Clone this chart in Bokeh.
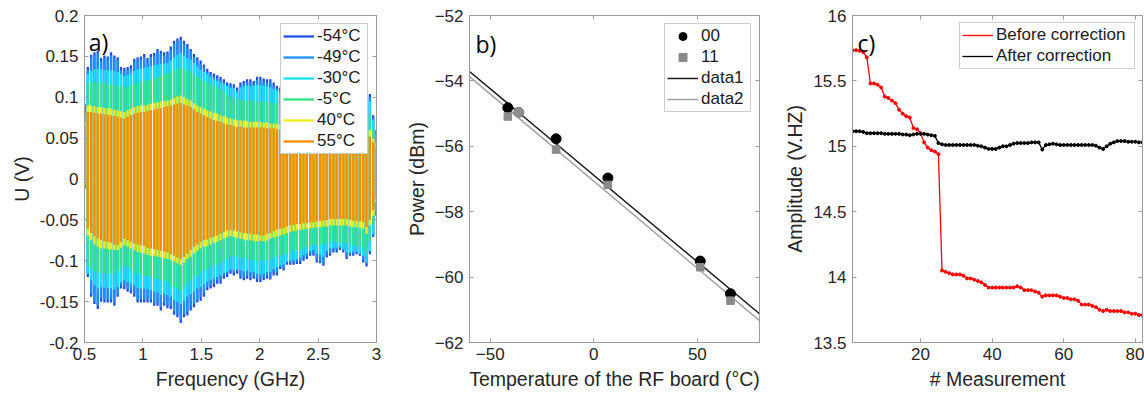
import numpy as np
from bokeh.plotting import figure
from bokeh.models import (ColumnDataSource, Legend, LegendItem, LinearAxis,
                          FixedTicker, CustomJSTickFormatter, CustomLabelingPolicy, Label)
from bokeh.layouts import row
from bokeh.embed import file_html
from bokeh.resources import INLINE

FONT = "Liberation Sans"
TXT = "#262626"
AXC = "#9c9c9c"

# ---------------- a) U(f) for six board temperatures (envelopes, mV) ----------------
temps_a = ["-54°C", "-49°C", "-30°C", "-5°C", "40°C", "55°C"]
colors_a = ["#1f50e6", "#1a8ff5", "#14e4fa", "#30e488", "#f2ee1e", "#ff8a00"]
freq_ghz = np.linspace(0.5, 3.0, 89)  # oscillation peaks along the sweep

up_m54 = [92, 137, 152, 155, 157, 148, 151, 150, 155, 151, 149, 137, 136, 137, 139, 147, 149, 150, 153, 148,
          153, 154, 159, 157, 155, 156, 162, 169, 172, 174, 169, 165, 159, 153, 149, 145, 140, 135, 131, 129,
          127, 125, 122, 118, 117, 116, 112, 118, 120, 122, 122, 120, 125, 125, 123, 122, 122, 118, 114, 112,
          112, 106, 105, 106, 104, 103, 100, 98, 95, 94, 101, 103, 105, 97, 94, 91, 90, 88, 91, 97,
          95, 94, 93, 95, 101, 106, 104, 78, 60]
up_m49 = [88, 133, 148, 151, 153, 144, 147, 146, 151, 147, 145, 133, 132, 133, 135, 143, 145, 146, 149, 144,
          149, 150, 155, 153, 151, 152, 158, 165, 168, 170, 165, 161, 155, 149, 145, 141, 136, 131, 127, 125,
          123, 121, 118, 114, 113, 112, 108, 114, 116, 118, 118, 116, 121, 121, 119, 118, 118, 114, 110, 108,
          108, 102, 101, 102, 100, 99, 96, 94, 91, 90, 97, 99, 101, 93, 90, 87, 86, 84, 87, 93,
          91, 90, 89, 91, 97, 102, 100, 75, 58]
up_m30 = [82, 128, 132, 134, 135, 134, 134, 133, 133, 132, 131, 128, 126, 127, 129, 132, 134, 135, 136, 137,
          138, 139, 140, 141, 141, 142, 145, 149, 152, 154, 151, 148, 146, 142, 138, 134, 131, 128, 125, 122,
          120, 118, 116, 114, 112, 111, 106, 112, 113, 114, 114, 114, 115, 115, 114, 113, 112, 110, 108, 106,
          105, 101, 100, 99, 98, 96, 93, 91, 88, 87, 91, 93, 95, 88, 85, 84, 84, 83, 86, 90,
          90, 89, 89, 91, 94, 100, 95, 72, 55]
up_m5 = [76, 118, 118, 118, 118, 118, 117, 116, 116, 115, 114, 113, 112, 113, 115, 116, 117, 118, 120, 121,
         122, 123, 125, 126, 128, 129, 131, 133, 135, 137, 135, 133, 131, 128, 125, 122, 120, 118, 116, 114,
         112, 109, 106, 103, 100, 99, 98, 97, 96, 96, 96, 96, 95, 95, 95, 94, 94, 93, 93, 92,
         91, 90, 89, 88, 87, 86, 85, 83, 82, 81, 81, 80, 80, 78, 77, 77, 77, 78, 78, 79,
         80, 81, 82, 83, 85, 90, 80, 60, 50]
up_p40 = [70, 90, 90, 89, 88, 88, 87, 87, 86, 85, 84, 83, 82, 84, 86, 88, 89, 90, 90, 91,
          92, 93, 94, 95, 95, 96, 97, 99, 101, 102, 100, 98, 96, 93, 90, 88, 86, 84, 83, 81,
          80, 78, 77, 75, 74, 73, 72, 72, 71, 71, 70, 70, 70, 70, 69, 69, 68, 68, 67, 67,
          66, 65, 64, 64, 63, 62, 62, 61, 60, 60, 59, 59, 58, 58, 57, 57, 57, 57, 57, 57,
          58, 59, 59, 60, 61, 65, 60, 50, 44]
up_p55 = [64, 82, 82, 81, 80, 80, 79, 79, 78, 77, 76, 75, 74, 76, 78, 80, 81, 82, 82, 83,
          84, 85, 86, 87, 88, 89, 90, 91, 92, 93, 91, 90, 88, 85, 82, 80, 78, 76, 74, 72,
          71, 70, 68, 67, 66, 65, 64, 64, 63, 63, 63, 63, 63, 63, 63, 62, 62, 62, 61, 61,
          60, 58, 57, 56, 55, 55, 54, 54, 53, 53, 52, 51, 51, 50, 49, 49, 49, 49, 49, 49,
          50, 51, 51, 52, 53, 57, 52, 45, 40]

lo_m54 = [-12, -120, -144, -153, -159, -150, -151, -151, -151, -155, -144, -134, -135, -138, -140, -144, -151, -151, -151, -151,
          -151, -155, -155, -161, -155, -158, -159, -166, -169, -176, -169, -167, -161, -157, -151, -149, -144, -136, -134, -132,
          -128, -128, -122, -120, -116, -118, -116, -122, -124, -122, -124, -122, -126, -126, -124, -122, -123, -118, -118, -110,
          -112, -105, -105, -105, -104, -104, -100, -98, -94, -94, -102, -103, -106, -96, -94, -90, -90, -87, -90, -98,
          -94, -94, -92, -94, -102, -107, -92, -71, -45]
lo_m49 = [-11, -116, -140, -149, -155, -146, -147, -147, -147, -151, -140, -130, -131, -134, -136, -140, -147, -147, -147, -147,
          -147, -151, -151, -157, -151, -154, -155, -162, -165, -172, -165, -163, -157, -153, -147, -145, -140, -132, -130, -128,
          -124, -124, -118, -116, -112, -114, -112, -118, -120, -118, -120, -118, -122, -122, -120, -118, -119, -114, -114, -107,
          -109, -102, -102, -102, -101, -101, -97, -95, -91, -91, -99, -100, -103, -93, -91, -87, -87, -84, -87, -95,
          -91, -91, -89, -91, -99, -104, -89, -69, -43]
lo_m30 = [-9, -116, -124, -130, -134, -132, -133, -133, -134, -135, -132, -126, -124, -126, -128, -130, -133, -134, -134, -135,
          -136, -138, -139, -142, -140, -142, -144, -148, -150, -153, -149, -144, -141, -138, -134, -132, -129, -126, -124, -122,
          -120, -118, -115, -113, -111, -111, -110, -112, -113, -112, -114, -114, -116, -117, -116, -114, -113, -110, -108, -106,
          -105, -101, -100, -99, -98, -96, -93, -91, -88, -87, -91, -93, -95, -88, -85, -84, -84, -83, -86, -90,
          -90, -89, -89, -91, -94, -102, -88, -67, -40]
lo_m5 = [-7, -106, -110, -113, -115, -116, -116, -116, -116, -116, -114, -110, -106, -108, -111, -114, -116, -117, -118, -119,
         -120, -121, -122, -124, -124, -126, -128, -131, -134, -136, -132, -128, -124, -120, -117, -114, -112, -110, -108, -106,
         -104, -102, -100, -97, -95, -95, -95, -96, -97, -98, -99, -99, -100, -100, -100, -99, -98, -97, -95, -94,
         -93, -91, -90, -88, -87, -86, -85, -83, -82, -81, -81, -80, -80, -78, -77, -77, -77, -78, -78, -79,
         -80, -81, -82, -83, -85, -92, -78, -55, -33]
lo_p40 = [-6, -69, -75, -80, -83, -85, -85, -86, -86, -87, -87, -84, -81, -83, -85, -87, -89, -90, -91, -93,
          -94, -94, -95, -96, -97, -98, -99, -101, -103, -105, -102, -98, -95, -91, -88, -85, -83, -82, -80, -78,
          -77, -75, -73, -71, -70, -71, -72, -73, -74, -75, -75, -76, -76, -76, -76, -75, -73, -72, -70, -69,
          -68, -66, -65, -64, -63, -62, -62, -61, -60, -60, -59, -59, -58, -58, -57, -57, -57, -57, -57, -57,
          -58, -59, -59, -60, -61, -67, -57, -45, -28]
lo_p55 = [-5, -61, -66, -70, -73, -75, -76, -77, -78, -80, -81, -77, -73, -75, -77, -79, -80, -81, -82, -84,
          -85, -86, -87, -88, -89, -90, -92, -94, -96, -98, -95, -91, -87, -83, -80, -77, -75, -74, -72, -71,
          -69, -67, -65, -63, -62, -63, -64, -65, -66, -67, -67, -68, -68, -69, -69, -67, -66, -64, -62, -61,
          -60, -58, -57, -56, -55, -55, -54, -54, -53, -53, -52, -51, -51, -50, -49, -49, -49, -49, -49, -49,
          -50, -51, -51, -52, -53, -59, -50, -38, -24]

uppers = [up_m54, up_m49, up_m30, up_m5, up_p40, up_p55]
lowers = [lo_m54, lo_m49, lo_m30, lo_m5, lo_p40, lo_p55]

# ---------------- b) power vs RF board temperature ----------------
temp_00 = [-41.5, -18.2, 6.8, 51.4, 66.0]
power_00 = [-54.82, -55.77, -56.97, -59.51, -60.51]
temp_11 = [-41.5, -18.2, 6.8, 51.4, 66.0]
power_11 = [-55.09, -56.10, -57.18, -59.70, -60.72]
temp_extra = [-36.2]          # lone grey round point
power_extra = [-54.96]
fit_t = [-60, 80]
fit_00 = [-53.71, -61.12]
fit_11 = [-53.87, -61.33]

# ---------------- c) amplitude per measurement ----------------
meas = list(range(1, 83))
before = [15.735, 15.735, 15.73, 15.72, 15.68, 15.48, 15.48, 15.47, 15.45, 15.38,
          15.37, 15.35, 15.33, 15.28, 15.25, 15.23, 15.22, 15.14, 15.13, 15.10,
          15.03, 14.99, 14.97, 14.96, 14.94, 14.05, 14.04, 14.03, 14.02, 14.02,
          14.02, 14.01, 13.99, 13.99, 13.98, 13.97, 13.96, 13.94, 13.92, 13.92,
          13.92, 13.92, 13.92, 13.92, 13.92, 13.92, 13.93, 13.92, 13.90, 13.90,
          13.90, 13.89, 13.88, 13.85, 13.86, 13.86, 13.86, 13.86, 13.85, 13.84,
          13.84, 13.83, 13.83, 13.82, 13.79, 13.79, 13.79, 13.78, 13.77, 13.75,
          13.74, 13.75, 13.74, 13.74, 13.74, 13.74, 13.73, 13.73, 13.72, 13.72,
          13.71, 13.71]
after = [15.115, 15.115, 15.115, 15.11, 15.10, 15.10, 15.10, 15.10, 15.10, 15.095,
         15.095, 15.095, 15.095, 15.095, 15.09, 15.09, 15.085, 15.09, 15.095, 15.095,
         15.095, 15.09, 15.085, 15.08, 15.025, 15.015, 15.01, 15.01, 15.01, 15.01,
         15.01, 15.01, 15.01, 15.01, 15.01, 15.005, 15.0, 14.99, 14.98, 14.98,
         14.98, 14.99, 15.0, 15.0, 15.01, 15.02, 15.025, 15.025, 15.025, 15.025,
         15.03, 15.03, 15.03, 14.975, 15.01, 15.015, 15.02, 15.015, 15.01, 15.01,
         15.01, 15.01, 15.01, 15.01, 15.01, 15.01, 15.01, 15.01, 15.005, 14.99,
         14.98, 15.0, 15.02, 15.03, 15.04, 15.04, 15.04, 15.035, 15.035, 15.035,
         15.03, 15.03]

FMT = "return String(Math.round(tick*100)/100)"
# mirrored box axes: keep the ticks, draw no labels
NO_LABELS = """
for (let i = 0; i < indices.size; i++) {
    if (indices.unset) { indices.unset(i) } else { indices.set(i, false) }
}
return indices
"""


def make_fig(width, left, right, xr, yr):
    p = figure(width=width, height=395, x_range=xr, y_range=yr,
               output_backend="svg", toolbar_location=None,
               min_border_left=left, min_border_right=right,
               min_border_top=15, min_border_bottom=53)
    p.grid.visible = False
    p.outline_line_color = AXC
    p.background_fill_color = "white"
    return p


def style_axes(p, xticks, yticks, xlabel, ylabel, xfmt=False, yfmt=False):
    p.xaxis.ticker = FixedTicker(ticks=xticks)
    p.yaxis.ticker = FixedTicker(ticks=yticks)
    if xfmt:
        p.xaxis.formatter = CustomJSTickFormatter(code=FMT)
    if yfmt:
        p.yaxis.formatter = CustomJSTickFormatter(code=FMT)
    p.xaxis.axis_label = xlabel
    p.yaxis.axis_label = ylabel
    mirrored = []
    for t, side in ((xticks, "above"), (yticks, "right")):
        ax = LinearAxis(ticker=FixedTicker(ticks=t), major_label_standoff=0,
                        major_label_policy=CustomLabelingPolicy(code=NO_LABELS))
        p.add_layout(ax, side)
        mirrored.append(ax)
    for ax in p.axis:
        ax.axis_line_color = AXC
        ax.major_tick_line_color = AXC
        ax.major_tick_in = 4
        ax.major_tick_out = 0
        ax.minor_tick_line_color = None
        ax.major_label_text_font = FONT
        ax.major_label_text_font_size = "17px"
        ax.major_label_text_color = TXT
        ax.axis_label_text_font = FONT
        ax.axis_label_text_font_size = "19.5px"
        ax.axis_label_text_font_style = "normal"
        ax.axis_label_text_color = TXT
    for ax in mirrored:
        ax.major_label_text_font_size = "0px"
    p.xaxis[0].major_label_standoff = 8
    p.xaxis[0].axis_label_standoff = 15
    p.yaxis[0].major_label_standoff = 6
    p.yaxis[0].axis_label_standoff = 4


def add_legend(p, items, label_width, margin):
    leg = Legend(items=items, location="top_right", margin=margin, padding=2, spacing=1,
                 glyph_width=31, glyph_height=20, label_height=20, label_width=label_width,
                 label_standoff=3, label_text_font=FONT, label_text_font_size="17px",
                 label_text_color="#1a1a1a", border_line_color=AXC, border_line_width=1,
                 background_fill_alpha=1.0)
    p.add_layout(leg)


def panel_label(p, x, y, txt):
    p.add_layout(Label(x=x, y=y, text=txt, text_font="Open Sans", text_font_size="23px",
                       text_color="black", text_baseline="alphabetic"))


# ---- a)
pa = make_fig(392, 84, 16, (0.5, 3.0), (-0.2, 0.2))
items_a = []
for name, col, up, lo in zip(temps_a, colors_a, uppers, lowers):
    src = ColumnDataSource(dict(f=freq_ghz, up=np.array(up) / 1000.0, lo=np.array(lo) / 1000.0))
    r = pa.segment(x0="f", y0="lo", x1="f", y1="up", source=src, line_color=col,
                   line_width=2.3, line_cap="butt")
    items_a.append(LegendItem(label=name, renderers=[r]))
style_axes(pa, [0.5, 1, 1.5, 2, 2.5, 3], [-0.2, -0.15, -0.1, -0.05, 0, 0.05, 0.1, 0.15, 0.2],
           "Frequency (GHz)", "U (V)", xfmt=True, yfmt=True)
add_legend(pa, items_a, 48, 8)
panel_label(pa, 0.537, 0.167, "a)")

# ---- b)
pb = make_fig(383, 77, 16, (-60, 80), (-62, -52))
l1 = pb.line(fit_t, fit_00, line_color="#111111", line_width=1.4)
l2 = pb.line(fit_t, fit_11, line_color="#a0a0a0", line_width=1.4)
pb.scatter(temp_extra, power_extra, marker="circle", size=10, fill_color="#8f8f8f",
           line_color="#7a7a7a")
s1 = pb.scatter(temp_00, power_00, marker="circle", size=10, fill_color="black", line_color="black")
s2 = pb.scatter(temp_11, power_11, marker="square", size=7.5, fill_color="#8a8a8a", line_color="#8a8a8a")
style_axes(pb, [-50, 0, 50], [-62, -60, -58, -56, -54, -52],
           "Temperature of the RF board (°C)", "Power (dBm)")
add_legend(pb, [LegendItem(label="00", renderers=[s1]), LegendItem(label="11", renderers=[s2]),
                LegendItem(label="data1", renderers=[l1]), LegendItem(label="data2", renderers=[l2])],
           47, 8)
panel_label(pb, -57.1, -52.86, "b)")

# ---- c)
pc = make_fig(369, 77, 2, (1, 82), (13.5, 16))
rl = pc.line(meas, before, line_color="#ff0000", line_width=1.3)
pc.scatter(meas, before, size=3, color="#ff0000")
bl = pc.line(meas, after, line_color="black", line_width=1.3)
pc.scatter(meas, after, size=3, color="black")
style_axes(pc, [20, 40, 60, 80], [13.5, 14, 14.5, 15, 15.5, 16],
           "# Measurement", "Amplitude (V.HZ)", yfmt=True)
add_legend(pc, [LegendItem(label="Before correction", renderers=[rl]),
                LegendItem(label="After correction", renderers=[bl])], 136, 7)
panel_label(pc, 2.4, 15.786, "c)")

layout = row(pa, pb, pc)
open("out.html", "w").write(file_html(layout, INLINE))
